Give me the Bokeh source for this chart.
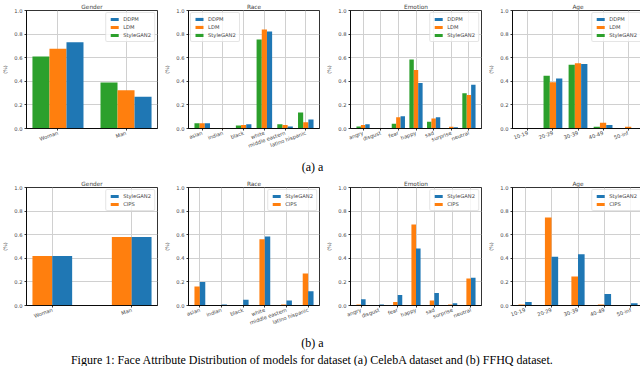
import numpy as np
from bokeh.plotting import figure
from bokeh.models import Range1d, FixedTicker, Legend, LegendItem, ColumnDataSource
from bokeh.layouts import column, row
from bokeh.embed import file_html
from bokeh.resources import INLINE
from bokeh.core.properties import value

BLUE = "#1f77b4"
ORANGE = "#ff7f0e"
GREEN = "#2ca02c"
FONT = "DejaVu Sans"

# ---------------- categories ----------------
gender_labels = ["Woman", "Man"]
race_labels = ["asian", "indian", "black", "white", "middle eastern", "latino hispanic"]
emotion_labels = ["angry", "disgust", "fear", "happy", "sad", "surprise", "neutral"]
age_labels = ["10-19", "20-29", "30-39", "40-49", "50-inf"]
y_ticks = [0.0, 0.2, 0.4, 0.6, 0.8, 1.0]

# ---------------- (a) CelebA ----------------
a_gender_ddpm = [0.73, 0.27]
a_gender_ldm = [0.675, 0.325]
a_gender_stylegan2 = [0.61, 0.39]

a_race_ddpm = [0.045, 0.005, 0.035, 0.823, 0.016, 0.076]
a_race_ldm = [0.045, 0.005, 0.030, 0.838, 0.030, 0.052]
a_race_stylegan2 = [0.045, 0.005, 0.025, 0.755, 0.035, 0.136]

a_emotion_ddpm = [0.035, 0.003, 0.103, 0.385, 0.095, 0.011, 0.370]
a_emotion_ldm = [0.030, 0.003, 0.095, 0.495, 0.084, 0.014, 0.283]
a_emotion_stylegan2 = [0.016, 0.003, 0.040, 0.584, 0.057, 0.002, 0.299]

a_age_ddpm = [0.001, 0.424, 0.546, 0.030, 0.005]
a_age_ldm = [0.001, 0.391, 0.554, 0.049, 0.014]
a_age_stylegan2 = [0.001, 0.446, 0.541, 0.014, 0.001]

# ---------------- (b) FFHQ ----------------
b_gender_stylegan2 = [0.42, 0.58]
b_gender_cips = [0.42, 0.58]

b_race_stylegan2 = [0.200, 0.008, 0.049, 0.584, 0.043, 0.120]
b_race_cips = [0.160, 0.000, 0.000, 0.562, 0.008, 0.272]

b_emotion_stylegan2 = [0.054, 0.008, 0.090, 0.484, 0.106, 0.019, 0.236]
b_emotion_cips = [0.008, 0.000, 0.030, 0.687, 0.043, 0.008, 0.228]

b_age_stylegan2 = [0.030, 0.413, 0.435, 0.098, 0.019]
b_age_cips = [0.008, 0.745, 0.245, 0.008, 0.000]

caption_a = "(a) a"
caption_b = "(b) a"
caption_fig = ("Figure 1: Face Attribute Distribution of models for dataset "
               "(a) CelebA dataset and (b) FFHQ dataset.")


def make_panel(title, labels, series, legend_order, legend_loc):
    """series: list of (name, color, values, offset) in drawing order"""
    n = len(labels)
    offs = [s[3] for s in series]
    lo = min(offs) - 0.125
    hi = (n - 1) + max(offs) + 0.125
    pad = 0.05 * (hi - lo)
    p = figure(frame_width=131, frame_height=118,
               x_range=Range1d(lo - pad, hi + pad), y_range=Range1d(0, 1),
               toolbar_location=None, output_backend="svg",
               min_border_left=19, min_border_right=5, min_border_top=0,
               min_border_bottom=27, title=title)
    p.title.text_font = FONT
    p.title.text_font_size = "5.8px"
    p.title.text_font_style = "normal"
    p.title.align = "center"
    p.title.standoff = 2
    p.title.offset = 0

    rends = {}
    for name, color, vals, off in series:
        xs = np.arange(n) + off
        src = ColumnDataSource(dict(x=xs, top=vals))
        r = p.vbar(x="x", top="top", width=0.25, source=src,
                   fill_color=color, line_color=None)
        rends[name] = r

    p.xaxis.ticker = FixedTicker(ticks=list(range(n)))
    p.xaxis.major_label_overrides = {i: lab for i, lab in enumerate(labels)}
    p.xaxis.major_label_orientation = 0.35
    p.xaxis.major_label_text_align = "center"
    p.xaxis.major_label_text_baseline = "top"
    p.yaxis.ticker = FixedTicker(ticks=y_ticks)
    p.yaxis.major_label_overrides = {t: "%.1f" % t for t in y_ticks}
    p.yaxis.axis_label = "(%)"
    p.yaxis.axis_label_text_font = FONT
    p.yaxis.axis_label_text_font_size = "4.8px"
    p.yaxis.axis_label_text_font_style = "normal"
    p.yaxis.axis_label_standoff = 3
    for ax in (p.xaxis, p.yaxis):
        ax.major_label_text_font = FONT
        ax.major_label_text_font_size = "5.2px"
        ax.major_label_standoff = 2
        ax.major_tick_out = 2
        ax.major_tick_in = 0
        ax.minor_tick_out = 0
        ax.minor_tick_in = 0
        ax.axis_line_color = "black"
        ax.axis_line_width = 0.8
        ax.major_tick_line_width = 0.8
    p.grid.grid_line_color = "#d0d0d0"
    p.grid.grid_line_width = 1
    p.outline_line_color = "black"
    p.outline_line_width = 0.8
    p.outline_line_alpha = 1

    items = [LegendItem(label=nm, renderers=[rends[nm]]) for nm in legend_order]
    leg = Legend(items=items, location=legend_loc)
    leg.label_text_font = FONT
    leg.label_text_font_size = "5.2px"
    leg.label_height = 6
    leg.glyph_height = 4
    leg.glyph_width = 10
    leg.label_standoff = 4
    leg.spacing = 2
    leg.padding = 3
    leg.margin = 2
    leg.border_line_color = "#cccccc"
    leg.border_line_width = 0.8
    leg.border_radius = 2
    leg.background_fill_alpha = 0.8
    p.add_layout(leg)
    return p


def row_a(title, labels, ddpm, ldm, sg2, loc):
    return make_panel(title, labels,
                      [("StyleGAN2", GREEN, sg2, -0.25),
                       ("LDM", ORANGE, ldm, 0.0),
                       ("DDPM", BLUE, ddpm, 0.25)],
                      ["DDPM", "LDM", "StyleGAN2"], loc)


def row_b(title, labels, sg2, cips, loc):
    return make_panel(title, labels,
                      [("CIPS", ORANGE, cips, -0.125),
                       ("StyleGAN2", BLUE, sg2, 0.125)],
                      ["StyleGAN2", "CIPS"], loc)


def caption(txt, h, size):
    c = figure(width=624, height=h, x_range=Range1d(0, 1), y_range=Range1d(0, 1),
               toolbar_location=None, output_backend="svg", min_border=0)
    c.axis.visible = False
    c.grid.visible = False
    c.outline_line_color = None
    c.text(x=[0.5], y=[0.5], text=[txt], text_align="center", text_baseline="middle",
           text_font=value("Liberation Serif"), text_font_size=size, text_color="black")
    return c


ra = row(
    row_a("Gender", gender_labels, a_gender_ddpm, a_gender_ldm, a_gender_stylegan2, "top_right"),
    row_a("Race", race_labels, a_race_ddpm, a_race_ldm, a_race_stylegan2, "top_left"),
    row_a("Emotion", emotion_labels, a_emotion_ddpm, a_emotion_ldm, a_emotion_stylegan2, "top_right"),
    row_a("Age", age_labels, a_age_ddpm, a_age_ldm, a_age_stylegan2, "top_right"),
)
rb = row(
    row_b("Gender", gender_labels, b_gender_stylegan2, b_gender_cips, "top_right"),
    row_b("Race", race_labels, b_race_stylegan2, b_race_cips, "top_right"),
    row_b("Emotion", emotion_labels, b_emotion_stylegan2, b_emotion_cips, "top_right"),
    row_b("Age", age_labels, b_age_stylegan2, b_age_cips, "top_right"),
)

layout = column(ra, caption(caption_a, 22, "12px"), rb,
                caption(caption_b, 20, "12px"), caption(caption_fig, 14, "12px"))

open("out.html", "w").write(file_html(layout, INLINE))
